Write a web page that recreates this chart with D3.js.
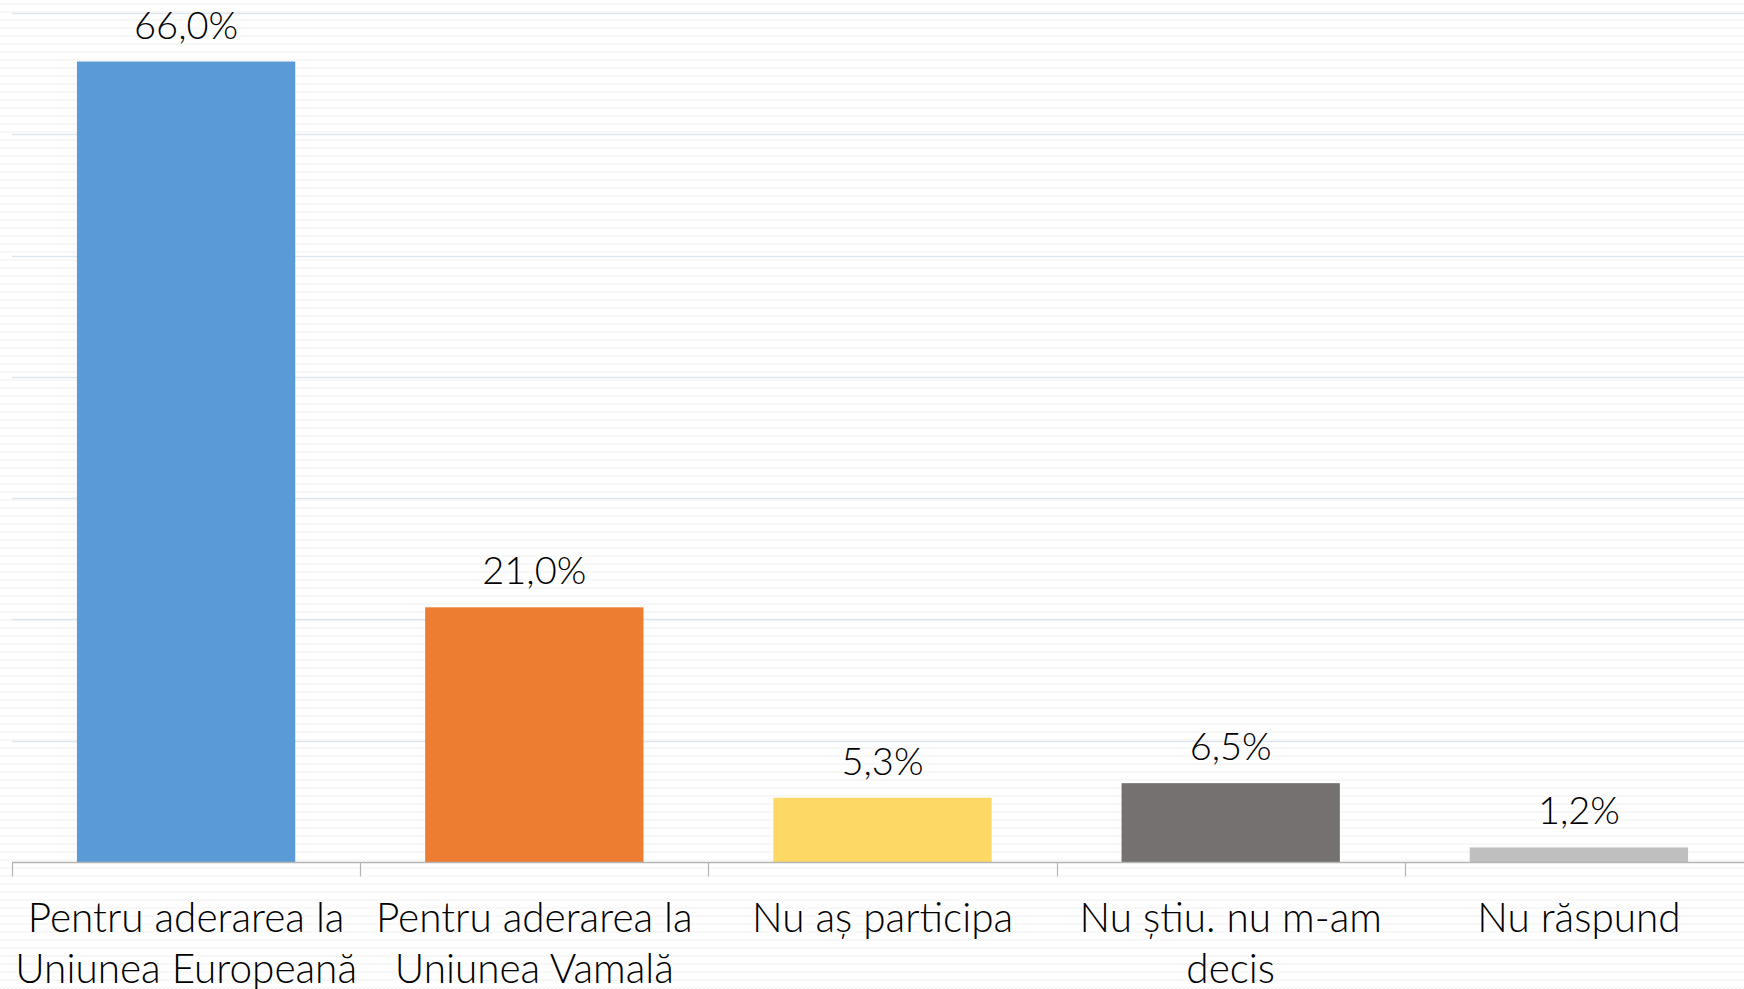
<!DOCTYPE html>
<html>
<head>
<meta charset="utf-8">
<script src="https://cdn.jsdelivr.net/npm/d3@7"></script>
<style>
  html, body { margin: 0; padding: 0; background: #fff; }
  svg { display: block; }
  text { font-family: Lato, "Open Sans", sans-serif; fill: #000; }
</style>
</head>
<body>
<div id="chart"></div>
<script>
const categories = [
  ['Pentru aderarea la', 'Uniunea Europeană'],
  ['Pentru aderarea la', 'Uniunea Vamală'],
  ['Nu aș participa'],
  ['Nu știu. nu m-am', 'decis'],
  ['Nu răspund']
];
const values = [66.0, 21.0, 5.3, 6.5, 1.2];
const colors = ['#5b9bd5', '#ed7d31', '#fdd865', '#767171', '#bfbfbf'];
const gridTicks = [10, 20, 30, 40, 50, 60, 70];

const width = 1744, height = 989;
const margin = { top: 13, right: -9, bottom: 127, left: 12 };

const svg = d3.select('#chart')
  .append('svg')
  .attr('width', width)
  .attr('height', height);

// faint wavy background
const pat = svg.append('defs').append('pattern')
  .attr('id', 'wave')
  .attr('width', 8)
  .attr('height', 8)
  .attr('patternUnits', 'userSpaceOnUse');
pat.append('path')
  .attr('d', 'M0,5 L2,3 L4,5 L6,3 L8,5')
  .attr('fill', 'none')
  .attr('stroke', '#f1f1f1')
  .attr('stroke-width', 1);
svg.append('rect').attr('width', width).attr('height', height).attr('fill', '#fff');
svg.append('rect').attr('width', width).attr('height', height).attr('fill', 'url(#wave)');

const x = d3.scaleBand()
  .domain(d3.range(categories.length))
  .range([margin.left, width - margin.right])
  .paddingInner(0.373)
  .paddingOuter(0.373 / 2);

const y = d3.scaleLinear()
  .domain([0, 70])
  .range([height - margin.bottom, margin.top]);

// gridlines
svg.append('g')
  .selectAll('line')
  .data(gridTicks)
  .enter().append('line')
    .attr('x1', margin.left)
    .attr('x2', width)
    .attr('y1', d => Math.round(y(d)) + 0.5)
    .attr('y2', d => Math.round(y(d)) + 0.5)
    .attr('stroke', '#dde6f0')
    .attr('stroke-width', 1.5);

// bars
svg.append('g')
  .selectAll('rect')
  .data(values)
  .enter().append('rect')
    .attr('x', (d, i) => x(i))
    .attr('y', d => y(d))
    .attr('width', x.bandwidth())
    .attr('height', d => y(0) - y(d))
    .attr('fill', (d, i) => colors[i]);

// x axis
const step = x.step();
const axisY = Math.round(y(0)) + 0.5;
svg.append('line')
  .attr('x1', margin.left)
  .attr('x2', width)
  .attr('y1', axisY)
  .attr('y2', axisY)
  .attr('stroke', '#b4b4b4')
  .attr('stroke-width', 1.5);

svg.append('g')
  .selectAll('line')
  .data(d3.range(categories.length + 1))
  .enter().append('line')
    .attr('x1', i => Math.round(margin.left + i * step) + 0.5)
    .attr('x2', i => Math.round(margin.left + i * step) + 0.5)
    .attr('y1', axisY)
    .attr('y2', axisY + 14)
    .attr('stroke', '#b4b4b4')
    .attr('stroke-width', 1.2);

// value labels
svg.append('g')
  .selectAll('text')
  .data(values)
  .enter().append('text')
    .attr('x', (d, i) => x(i) + x.bandwidth() / 2)
    .attr('y', d => y(d) - 23)
    .attr('text-anchor', 'middle')
    .style('font-size', '38px')
    .style('font-weight', 300)
    .text(d => d.toFixed(1).replace('.', ',') + '%');

// category labels
const lbl = svg.append('g')
  .selectAll('text')
  .data(categories)
  .enter().append('text')
    .attr('text-anchor', 'middle')
    .style('font-size', '40.5px')
    .style('font-weight', 300)
    .attr('transform', (d, i) => `translate(${x(i) + x.bandwidth() / 2}, 932)`);

lbl.selectAll('tspan')
  .data(d => d)
  .enter().append('tspan')
    .attr('x', 0)
    .attr('y', (d, j) => j * 51)
    .text(d => d);
</script>
</body>
</html>
